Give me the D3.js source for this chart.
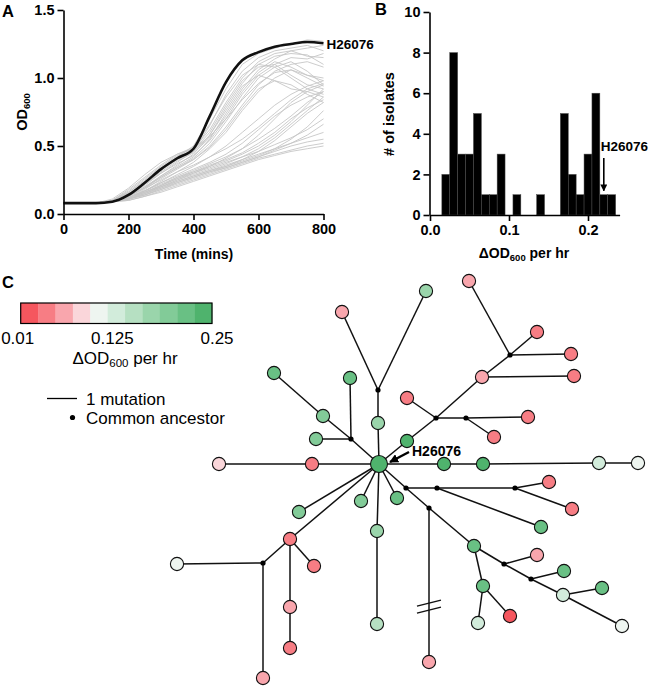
<!DOCTYPE html>
<html><head><meta charset="utf-8">
<script src="https://cdn.jsdelivr.net/npm/d3@7"></script>
<style>body{margin:0;background:#fff}svg{display:block;font-family:"Liberation Sans",Arial,Helvetica,sans-serif}</style>
</head><body><svg id="c" width="650" height="686"></svg>
<script>
// ---------- Panel A data ----------
const times = [0,50,100,150,200,250,300,350,400,450,500,550,600,650,700,750,800];
const refName = "H26076";
const refOD = [0.08,0.08,0.08,0.09,0.14,0.23,0.33,0.41,0.48,0.72,0.97,1.13,1.19,1.23,1.25,1.265,1.255];
const greyOD = [
 [0.08,0.08,0.08,0.10,0.16,0.24,0.33,0.42,0.50,0.70,0.92,1.10,1.18,1.22,1.25,1.28,1.27],
 [0.08,0.08,0.08,0.09,0.14,0.21,0.30,0.38,0.46,0.65,0.88,1.05,1.15,1.20,1.22,1.24,1.20],
 [0.08,0.08,0.08,0.10,0.17,0.26,0.35,0.43,0.48,0.62,0.82,1.00,1.12,1.18,1.20,1.16,1.15],
 [0.08,0.08,0.08,0.09,0.13,0.19,0.28,0.36,0.44,0.58,0.78,0.96,1.10,1.16,1.18,1.17,1.10],
 [0.08,0.08,0.08,0.10,0.15,0.22,0.31,0.39,0.45,0.56,0.72,0.90,1.04,1.12,1.08,1.02,0.98],
 [0.08,0.08,0.08,0.09,0.13,0.20,0.27,0.34,0.41,0.52,0.68,0.85,1.00,1.08,1.12,1.05,0.95],
 [0.08,0.08,0.08,0.10,0.16,0.25,0.34,0.42,0.47,0.60,0.80,0.98,1.08,1.10,1.02,0.95,0.92],
 [0.08,0.08,0.08,0.09,0.12,0.18,0.26,0.33,0.40,0.50,0.64,0.80,0.95,1.05,1.10,1.12,1.08],
 [0.08,0.08,0.08,0.09,0.14,0.22,0.30,0.37,0.43,0.54,0.70,0.88,1.02,1.10,1.15,1.14,1.18],
 [0.08,0.08,0.08,0.10,0.18,0.27,0.36,0.44,0.49,0.66,0.86,1.02,1.10,1.08,1.00,0.92,0.88],
 [0.08,0.08,0.08,0.09,0.13,0.20,0.28,0.35,0.42,0.55,0.74,0.92,1.06,1.14,1.20,1.22,1.24],
 [0.08,0.08,0.08,0.09,0.12,0.17,0.24,0.31,0.38,0.48,0.60,0.76,0.90,1.00,1.06,1.02,1.00],
 [0.08,0.08,0.08,0.10,0.15,0.23,0.32,0.40,0.46,0.58,0.76,0.94,1.02,0.98,0.92,0.90,0.86],
 [0.08,0.08,0.08,0.09,0.13,0.19,0.27,0.34,0.40,0.49,0.62,0.78,0.92,0.98,0.95,0.88,0.82],
 [0.08,0.08,0.08,0.11,0.19,0.29,0.38,0.44,0.48,0.57,0.70,0.84,0.96,1.04,1.06,1.00,0.94],
 [0.08,0.08,0.08,0.09,0.12,0.17,0.23,0.29,0.35,0.42,0.50,0.60,0.70,0.80,0.88,0.94,0.98],
 [0.08,0.08,0.08,0.09,0.13,0.19,0.25,0.31,0.36,0.42,0.48,0.55,0.64,0.74,0.84,0.92,0.96],
 [0.08,0.08,0.08,0.09,0.11,0.16,0.21,0.27,0.32,0.37,0.42,0.48,0.55,0.63,0.72,0.82,0.90],
 [0.08,0.08,0.08,0.09,0.12,0.17,0.22,0.27,0.31,0.35,0.39,0.44,0.50,0.58,0.68,0.80,0.92],
 [0.08,0.08,0.08,0.09,0.11,0.15,0.20,0.25,0.29,0.33,0.37,0.42,0.48,0.56,0.66,0.76,0.86],
 [0.08,0.08,0.08,0.09,0.12,0.16,0.21,0.26,0.30,0.34,0.38,0.42,0.46,0.51,0.56,0.62,0.70],
 [0.08,0.08,0.08,0.09,0.11,0.15,0.19,0.24,0.28,0.32,0.35,0.39,0.43,0.48,0.55,0.64,0.76],
 [0.08,0.08,0.08,0.09,0.11,0.14,0.18,0.22,0.26,0.30,0.34,0.38,0.42,0.46,0.50,0.53,0.55],
 [0.08,0.08,0.08,0.09,0.10,0.13,0.17,0.21,0.25,0.29,0.33,0.37,0.41,0.44,0.47,0.50,0.52],
 [0.08,0.08,0.08,0.09,0.12,0.16,0.20,0.24,0.28,0.32,0.36,0.40,0.44,0.48,0.52,0.56,0.60],
 [0.08,0.08,0.08,0.09,0.11,0.14,0.18,0.23,0.27,0.31,0.35,0.40,0.46,0.54,0.64,0.74,0.82],
 [0.08,0.08,0.08,0.09,0.10,0.13,0.16,0.20,0.24,0.28,0.32,0.36,0.40,0.43,0.46,0.48,0.50],
 [0.08,0.08,0.08,0.09,0.12,0.17,0.23,0.28,0.33,0.38,0.44,0.52,0.62,0.72,0.80,0.86,0.90],
 [0.08,0.08,0.08,0.09,0.11,0.15,0.20,0.25,0.30,0.35,0.41,0.48,0.58,0.70,0.82,0.90,0.95],
 [0.08,0.08,0.08,0.09,0.12,0.16,0.21,0.26,0.31,0.36,0.40,0.45,0.52,0.60,0.70,0.78,0.84],
 [0.08,0.08,0.08,0.09,0.11,0.14,0.19,0.23,0.27,0.31,0.34,0.38,0.42,0.47,0.52,0.58,0.66]
];
const timeTicks = [0,200,400,600,800];
const odTicks = [0,0.5,1.0,1.5];

// ---------- Panel B data ----------
const binCenters = [0.02,0.03,0.04,0.05,0.06,0.07,0.08,0.09,0.10,0.11,0.12,0.13,0.14,0.15,0.16,0.17,0.18,0.19,0.20,0.21,0.22,0.23];
const binCounts  = [2,8,3,3,5,1,1,3,0,1,0,0,1,0,0,5,2,1,3,6,1,1];
const rateTicks = [0,0.1,0.2];
const countTicks = [0,2,4,6,8,10];
const refRate = 0.22;

// ---------- Panel C data ----------
const rampColors = ['#f5565e','#f77d84','#f9a6ad','#fad6da','#eef5f0','#d2ecdb','#b6e0c2','#9ad5ab','#82cb98','#69c084','#4fb36d'];
const rampTicks = [0.01,0.125,0.25];
// layout units relative to H26076; v = growth rate (ΔOD600/hr), null = inferred common ancestor
const treeNodes = [
 {id:'H',dx:0,dy:0,v:0.23},
 {id:'a1',dx:-1,dy:-74,v:null},{id:'n3',dx:-37,dy:-152,v:0.06},{id:'n4',dx:47,dy:-173,v:0.17},{id:'n5',dx:-1,dy:-41,v:0.17},
 {id:'a2',dx:-28,dy:-25,v:null},{id:'n7',dx:-29,dy:-86,v:0.215},{id:'n8',dx:-56,dy:-48,v:0.19},{id:'n9',dx:-105,dy:-91,v:0.215},{id:'n10',dx:-63,dy:-25,v:0.19},
 {id:'n11',dx:28,dy:-23,v:0.24},{id:'a3',dx:57,dy:-46,v:null},{id:'n13',dx:28,dy:-66,v:0.04},{id:'a4',dx:87,dy:-46,v:null},
 {id:'n15',dx:149,dy:-47,v:0.04},{id:'n16',dx:115,dy:-27,v:0.04},{id:'n17',dx:103,dy:-87,v:0.06},{id:'n18',dx:195,dy:-88,v:0.04},
 {id:'a5',dx:131,dy:-109,v:null},{id:'n20',dx:90,dy:-183,v:0.06},{id:'n21',dx:158,dy:-132,v:0.04},{id:'n22',dx:192,dy:-110,v:0.04},
 {id:'n23',dx:65,dy:0,v:0.24},{id:'n24',dx:104,dy:0,v:0.24},{id:'n25',dx:220,dy:-1,v:0.13},{id:'n26',dx:259,dy:-1,v:0.11},
 {id:'n27',dx:-67,dy:0,v:0.04},{id:'n28',dx:-160,dy:0,v:0.08},
 {id:'n29',dx:18,dy:34,v:0.215},{id:'a6',dx:27,dy:24,v:null},{id:'a7',dx:58,dy:24,v:null},{id:'a8',dx:136,dy:24,v:null},
 {id:'n33',dx:170,dy:18,v:0.04},{id:'n34',dx:193,dy:45,v:0.04},{id:'n35',dx:162,dy:63,v:0.215},
 {id:'a9',dx:50,dy:44,v:null},{id:'n37',dx:50,dy:198,v:0.06},{id:'n38',dx:95,dy:82,v:0.215},
 {id:'a10',dx:125,dy:100,v:null},{id:'n40',dx:158,dy:91,v:0.06},{id:'a11',dx:152,dy:115,v:null},
 {id:'n42',dx:185,dy:107,v:0.215},{id:'n43',dx:184,dy:131,v:0.13},{id:'n44',dx:223,dy:124,v:0.215},{id:'n45',dx:243,dy:162,v:0.11},
 {id:'n46',dx:104,dy:122,v:0.215},{id:'n47',dx:99,dy:159,v:0.13},{id:'n48',dx:131,dy:152,v:0.02},
 {id:'n49',dx:-2,dy:67,v:0.17},{id:'n50',dx:-2,dy:160,v:0.15},{id:'n51',dx:-18,dy:37,v:0.19},{id:'n52',dx:-80,dy:48,v:0.19},
 {id:'n53',dx:-89,dy:75,v:0.04},{id:'a12',dx:-116,dy:99,v:null},{id:'n55',dx:-202,dy:100,v:0.11},{id:'n56',dx:-116,dy:214,v:0.06},
 {id:'n57',dx:-65,dy:102,v:0.04},{id:'n58',dx:-89,dy:143,v:0.06},{id:'n59',dx:-89,dy:184,v:0.04}
];
const treeEdges = [
 ['H','n5'],['n5','a1'],['a1','n3'],['a1','n4'],
 ['H','a2'],['a2','n8'],['n8','n9'],['a2','n7'],['a2','n10'],
 ['H','n11'],['n11','a3'],['a3','n13'],['a3','a4'],['a4','n15'],['a4','n16'],['a3','n17'],['n17','n18'],['n17','a5'],['a5','n20'],['a5','n21'],['a5','n22'],
 ['H','n23'],['n23','n24'],['n24','n25'],['n25','n26'],
 ['H','n27'],['n27','n28'],
 ['H','n29'],['H','a6'],['a6','a7'],['a7','a8'],['a8','n33'],['a8','n34'],['a7','n35'],
 ['a6','a9'],['a9','n37'],['a9','n38'],['n38','a10'],['a10','n40'],['a10','a11'],['a11','n42'],['a11','n43'],['n43','n44'],['n43','n45'],
 ['n38','n46'],['n46','n47'],['n46','n48'],
 ['H','n49'],['n49','n50'],['H','n51'],['H','n52'],
 ['H','n53'],['n53','a12'],['a12','n55'],['a12','n56'],['n53','n57'],['n53','n58'],['n58','n59']
];
const brokenEdge = ['a9','n37'];

// ---------- drawing ----------
const svg = d3.select('#c');
const FONT = '"Liberation Sans",Arial,Helvetica,sans-serif';
const defs = svg.append('defs');
defs.append('marker').attr('id','ah').attr('viewBox','0 0 10 10').attr('refX',9).attr('refY',5)
  .attr('markerWidth',7).attr('markerHeight',7).attr('markerUnits','userSpaceOnUse').attr('orient','auto')
  .append('path').attr('d','M0,0L10,5L0,10z').attr('fill','#000');
defs.append('marker').attr('id','ah2').attr('viewBox','0 0 10 10').attr('refX',9).attr('refY',5)
  .attr('markerWidth',9).attr('markerHeight',9).attr('markerUnits','userSpaceOnUse').attr('orient','auto')
  .append('path').attr('d','M0,0L10,5L0,10z').attr('fill','#000');

function styleAxis(g){
  g.selectAll('path,line').attr('stroke','#000').attr('stroke-width',1.6);
  g.selectAll('text').attr('font-family',FONT).attr('font-weight','bold').attr('font-size',14.5).attr('fill','#000');
}

// Panel A
const xA = d3.scaleLinear().domain([0,800]).range([63.5,323.5]);
const yA = d3.scaleLinear().domain([0,1.5]).range([214,10]);
const lineA = d3.line().x((d,i)=>xA(times[i])).y(d=>yA(d));
const gA = svg.append('g');
gA.selectAll('path.grey').data(greyOD).join('path').attr('class','grey')
  .attr('d',lineA).attr('fill','none').attr('stroke','#c6c6c6').attr('stroke-width',0.9);
gA.append('path').attr('d',lineA.curve(d3.curveMonotoneX)(refOD)).attr('fill','none').attr('stroke','#111').attr('stroke-width',2.6);
gA.append('g').attr('transform','translate(0,214)').call(d3.axisBottom(xA).tickValues(timeTicks).tickSize(6).tickSizeOuter(0).tickPadding(4).tickFormat(d3.format('d'))).call(styleAxis);
gA.append('g').attr('transform','translate(63.5,0)').call(d3.axisLeft(yA).tickValues(odTicks).tickSize(6).tickSizeOuter(0).tickPadding(3).tickFormat(d3.format('.1f'))).call(styleAxis);
gA.append('text').attr('x',xA(800)+3).attr('y',yA(refOD[refOD.length-1])+6).text(refName)
  .attr('font-family',FONT).attr('font-weight','bold').attr('font-size',13.5);
const yl = gA.append('text').attr('transform','translate(27,112) rotate(-90)').attr('text-anchor','middle')
  .attr('font-family',FONT).attr('font-weight','bold').attr('font-size',14.5);
yl.append('tspan').text('OD');
yl.append('tspan').text('600').attr('font-size',9.5).attr('dy',3);
gA.append('text').attr('x',194).attr('y',259).attr('text-anchor','middle').text('Time (mins)')
  .attr('font-family',FONT).attr('font-weight','bold').attr('font-size',14);

// Panel B
const xB = d3.scaleLinear().domain([0,0.24]).range([430,619.6]);
const yB = d3.scaleLinear().domain([0,10]).range([215,12]);
const gB = svg.append('g');
gB.selectAll('rect').data(binCenters.map((c,i)=>({c,n:binCounts[i]})).filter(d=>d.n>0)).join('rect')
  .attr('x',d=>xB(d.c-0.005)).attr('width',d=>xB(d.c+0.005)-xB(d.c-0.005))
  .attr('y',d=>yB(d.n)).attr('height',d=>yB(0)-yB(d.n))
  .attr('fill','#000').attr('stroke','#4a4a4a').attr('stroke-width',0.5);
gB.append('g').attr('transform','translate(0,215)').call(d3.axisBottom(xB).tickValues(rateTicks).tickSize(6).tickSizeOuter(0).tickPadding(4).tickFormat(d3.format('.1f'))).call(styleAxis);
gB.append('g').attr('transform','translate(429.5,0)').call(d3.axisLeft(yB).tickValues(countTicks).tickSize(6).tickSizeOuter(0).tickPadding(3)).call(styleAxis);
gB.append('text').attr('transform','translate(394,114) rotate(-90)').attr('text-anchor','middle').text('# of isolates')
  .attr('font-family',FONT).attr('font-weight','bold').attr('font-size',14.5);
const xl = gB.append('text').attr('x',524).attr('y',258).attr('text-anchor','middle')
  .attr('font-family',FONT).attr('font-weight','bold').attr('font-size',14);
xl.append('tspan').text('ΔOD');
xl.append('tspan').text('600').attr('font-size',9.5).attr('dy',3);
xl.append('tspan').text(' per hr').attr('dy',-3);
gB.append('text').attr('x',xB(refRate)-3).attr('y',151).text(refName)
  .attr('font-family',FONT).attr('font-weight','bold').attr('font-size',13.5);
gB.append('line').attr('x1',xB(refRate)).attr('x2',xB(refRate)).attr('y1',158).attr('y2',yB(1)-4)
  .attr('stroke','#000').attr('stroke-width',1.6).attr('marker-end','url(#ah)');

// Panel letters
[['A',2,17],['B',375,15],['C',2,288]].forEach(([t,x,y])=>svg.append('text').attr('x',x).attr('y',y).text(t)
  .attr('font-family',FONT).attr('font-weight','bold').attr('font-size',16.5));

// Panel C legend
const color = d3.scaleQuantize().domain([0.01,0.25]).range(rampColors);
const xR = d3.scaleLinear().domain([0.01,0.25]).range([20.7,212]);
const gL = svg.append('g');
gL.selectAll('rect.c').data(rampColors).join('rect').attr('class','c')
  .attr('x',c=>xR(color.invertExtent(c)[0])).attr('width',c=>xR(color.invertExtent(c)[1])-xR(color.invertExtent(c)[0])+0.3)
  .attr('y',303).attr('height',20.5).attr('fill',c=>c);
gL.append('rect').attr('x',xR(0.01)).attr('y',303).attr('width',xR(0.25)-xR(0.01)).attr('height',20.5)
  .attr('fill','none').attr('stroke','#000').attr('stroke-width',1.2);
gL.selectAll('text.t').data(rampTicks).join('text').attr('class','t')
  .attr('x',d=>xR(d)).attr('y',344).text(d=>d)
  .attr('text-anchor','middle')
  .attr('dx',(d,i)=>i===0?-3:(i===2?5:0))
  .attr('font-family',FONT).attr('font-size',17);
const ll = gL.append('text').attr('x',125).attr('y',364).attr('text-anchor','middle').attr('font-family',FONT).attr('font-size',17);
ll.append('tspan').text('ΔOD');
ll.append('tspan').text('600').attr('font-size',11.5).attr('dy',3);
ll.append('tspan').text(' per hr').attr('dy',-3);
gL.append('line').attr('x1',47).attr('x2',77).attr('y1',398.5).attr('y2',398.5).attr('stroke','#000').attr('stroke-width',1.3);
gL.append('circle').attr('cx',72.5).attr('cy',417.5).attr('r',2.6).attr('fill','#000');
gL.append('text').attr('x',86).attr('y',405).text('1 mutation').attr('font-family',FONT).attr('font-size',17);
gL.append('text').attr('x',86).attr('y',424).text('Common ancestor').attr('font-family',FONT).attr('font-size',17);

// Tree
const sx = d3.scaleLinear().domain([-210,270]).range([169,649]);
const sy = d3.scaleLinear().domain([-190,220]).range([274,684]);
const byId = new Map(treeNodes.map(n=>[n.id,n]));
const gT = svg.append('g');
gT.selectAll('line.e').data(treeEdges).join('line').attr('class','e')
  .attr('x1',d=>sx(byId.get(d[0]).dx)).attr('y1',d=>sy(byId.get(d[0]).dy))
  .attr('x2',d=>sx(byId.get(d[1]).dx)).attr('y2',d=>sy(byId.get(d[1]).dy))
  .attr('stroke','#111').attr('stroke-width',1.5);
// break marks on the long edge
{
  const a = byId.get(brokenEdge[0]), b = byId.get(brokenEdge[1]);
  const mx = sx((a.dx+b.dx)/2), my = sy(a.dy + (b.dy-a.dy)*0.64);
  [-3.5,3.5].forEach(o=>gT.append('line').attr('x1',mx-12).attr('y1',my+o+3).attr('x2',mx+12).attr('y2',my+o-3)
    .attr('stroke','#111').attr('stroke-width',1.4));
}
gT.selectAll('circle.anc').data(treeNodes.filter(n=>n.v===null)).join('circle').attr('class','anc')
  .attr('cx',d=>sx(d.dx)).attr('cy',d=>sy(d.dy)).attr('r',2.6).attr('fill','#000');
gT.selectAll('circle.iso').data(treeNodes.filter(n=>n.v!==null)).join('circle').attr('class','iso')
  .attr('cx',d=>sx(d.dx)).attr('cy',d=>sy(d.dy)).attr('r',d=>d.id==='H'?8.5:6.6)
  .attr('fill',d=>color(d.v)).attr('stroke','#111').attr('stroke-width',1.1);
gT.append('text').attr('x',sx(0)+33).attr('y',sy(0)-8).text(refName)
  .attr('font-family',FONT).attr('font-weight','bold').attr('font-size',14);
gT.append('line').attr('x1',sx(0)+30).attr('y1',sy(0)-12).attr('x2',sx(0)+11).attr('y2',sy(0)-2)
  .attr('stroke','#000').attr('stroke-width',2.4).attr('marker-end','url(#ah2)');
</script></body></html>
